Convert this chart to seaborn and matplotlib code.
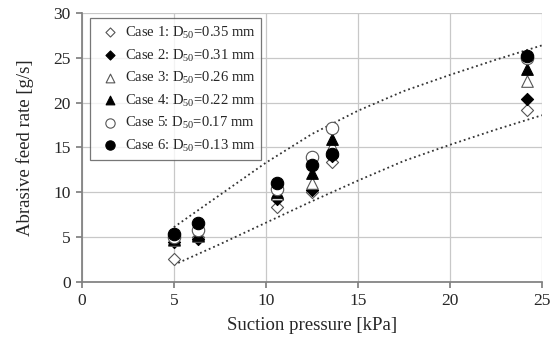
import matplotlib
matplotlib.use("Agg")
import matplotlib.pyplot as plt
import seaborn as sns
import pandas as pd

pressure = [5.0, 6.3, 10.6, 12.5, 13.6, 24.2]
case1 = [2.5, 5.0, 8.4, 10.0, 13.4, 19.2]
case2 = [4.4, 4.8, 9.3, 10.3, 14.0, 20.4]
case3 = [4.7, 5.1, 9.8, 11.0, 15.2, 22.4]
case4 = [4.8, 5.2, 10.0, 12.2, 16.0, 23.8]
case5 = [5.0, 5.8, 10.4, 13.9, 17.2, 25.0]
case6 = [5.3, 6.6, 11.0, 13.1, 14.3, 25.2]
labels = ["Case 1: D$_{50}$=0.35 mm", "Case 2: D$_{50}$=0.31 mm",
          "Case 3: D$_{50}$=0.26 mm", "Case 4: D$_{50}$=0.22 mm",
          "Case 5: D$_{50}$=0.17 mm", "Case 6: D$_{50}$=0.13 mm"]

upper_x = [5, 7.5, 10, 12.5, 15, 17.5, 20, 22.5, 25]
upper_y = [6.1, 9.7, 13.3, 16.5, 19.1, 21.3, 23.1, 24.8, 26.4]
lower_x = [5, 7.5, 10, 12.5, 15, 17.5, 20, 22.5, 25]
lower_y = [1.9, 4.2, 6.6, 9.0, 11.3, 13.5, 15.3, 17.0, 18.6]

sns.set_theme(style="white")
plt.rcParams['font.family'] = ['Liberation Serif', 'DejaVu Serif']
plt.rcParams['mathtext.fontset'] = 'custom'
plt.rcParams['mathtext.rm'] = 'Liberation Serif'

fig = plt.figure(figsize=(5.53, 3.45), dpi=100)
ax = fig.add_axes([0.148, 0.183, 0.832, 0.779])

sns.lineplot(x=upper_x, y=upper_y, ax=ax, color="#333333", linestyle=":", linewidth=1.3, legend=False)
sns.lineplot(x=lower_x, y=lower_y, ax=ax, color="#333333", linestyle=":", linewidth=1.3, legend=False)

series = [case1, case2, case3, case4, case5, case6]
markers = ["D", "D", "^", "^", "o", "o"]
fills = ["white", "black", "white", "black", "white", "black"]
sizes = [38, 38, 70, 70, 80, 80]
edgec = ["#555555", "black", "#555555", "black", "#555555", "black"]
for vals, m, fc, s, ec, lab in zip(series, markers, fills, sizes, edgec, labels):
    df = pd.DataFrame({"p": pressure, "r": vals})
    sns.scatterplot(data=df, x="p", y="r", ax=ax, marker=m, s=s, color=fc,
                    edgecolor=ec, linewidth=0.8, label=lab, zorder=3)

ax.set_xlim(0, 25)
ax.set_ylim(0, 30)
ax.set_xticks(range(0, 26, 5))
ax.set_yticks(range(0, 31, 5))
ax.grid(True, color="#c8c8c8", linewidth=0.9)
ax.set_axisbelow(True)
for side in ["top", "right"]:
    ax.spines[side].set_visible(False)
for side in ["left", "bottom"]:
    ax.spines[side].set_color("#808080")
ax.tick_params(axis="both", which="major", length=4, color="#808080",
               labelsize=12.5, direction="out", bottom=True, left=True, pad=4)
ax.set_xlabel("Suction pressure [kPa]", fontsize=13.5, labelpad=6)
ax.set_ylabel("Abrasive feed rate [g/s]", fontsize=13.5, labelpad=14)

leg = ax.legend(loc="upper left", bbox_to_anchor=(0.017, 0.98), borderaxespad=0,
                fontsize=10.5, frameon=True, fancybox=False, edgecolor="#555555",
                handletextpad=0.0, labelspacing=0.4, borderpad=0.4,
                handlelength=2.0, markerscale=0.75)
leg.get_frame().set_linewidth(0.9)

fig.savefig("out.png", dpi=100)
